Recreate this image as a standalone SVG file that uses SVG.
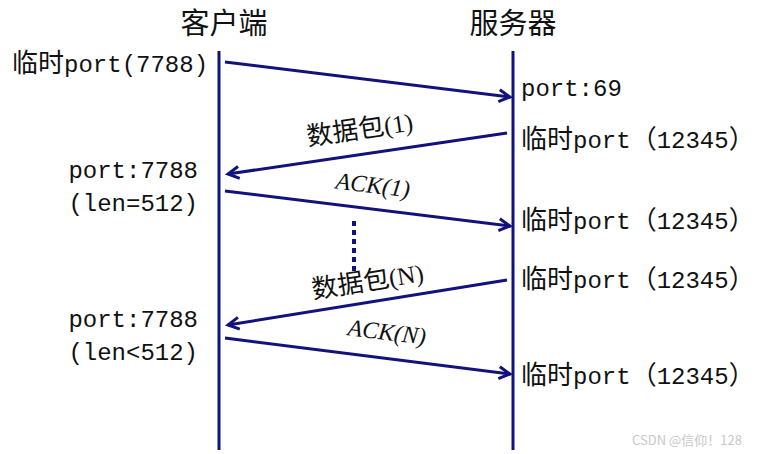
<svg xmlns="http://www.w3.org/2000/svg" width="762" height="454" viewBox="0 0 762 454">
<style>
.t{font-family:"Liberation Mono","Noto Sans CJK SC",monospace;font-size:24px;fill:#111}
.c{font-family:"Noto Sans CJK SC",sans-serif;font-size:26px}
.h{font-family:"Noto Sans CJK SC",sans-serif;font-size:29px;fill:#111}
.s{font-family:"Liberation Serif",serif;font-size:25px;fill:#111}
.i{font-family:"Liberation Serif",serif;font-style:italic;font-size:24px;fill:#111}
.ln{stroke:#12127c;stroke-width:3;fill:none}
.ar{stroke:#12127c;stroke-width:3;fill:none;marker-end:url(#ah)}
.wm{font-family:"Noto Sans CJK SC",sans-serif;font-size:13px;fill:#c8c8c8}
</style>
<defs>
<marker id="ah" markerUnits="userSpaceOnUse" markerWidth="20" markerHeight="20" refX="14" refY="8" orient="auto">
<path d="M3,2 L14,8 L3,14" fill="none" stroke="#12127c" stroke-width="3"/>
</marker>
</defs>
<rect width="762" height="454" fill="#fff"/>
<g id="client">
<text class="h" x="224" y="34" text-anchor="middle">客户端</text>
<line class="ln" x1="219" y1="51" x2="219" y2="450"/>
<text class="t" x="12" y="72"><tspan class="c">临时</tspan>port(7788)</text>
<text class="t" x="198" y="178" text-anchor="end">port:7788</text>
<text class="t" x="198" y="211" text-anchor="end">(len=512)</text>
<text class="t" x="198" y="327" text-anchor="end">port:7788</text>
<text class="t" x="198" y="360" text-anchor="end">(len&lt;512)</text>
</g>
<g id="server">
<text class="h" x="513" y="34" text-anchor="middle">服务器</text>
<line class="ln" x1="513" y1="51" x2="513" y2="450"/>
<text class="t" x="521" y="96">port:69</text>
<text class="t" x="521" y="148"><tspan class="c">临时</tspan>port<tspan class="c">（</tspan>12345<tspan class="c">）</tspan></text>
<text class="t" x="521" y="229"><tspan class="c">临时</tspan>port<tspan class="c">（</tspan>12345<tspan class="c">）</tspan></text>
<text class="t" x="521" y="288"><tspan class="c">临时</tspan>port<tspan class="c">（</tspan>12345<tspan class="c">）</tspan></text>
<text class="t" x="521" y="384"><tspan class="c">临时</tspan>port<tspan class="c">（</tspan>12345<tspan class="c">）</tspan></text>
</g>
<g id="connectors">
<line class="ar" x1="225" y1="62" x2="510" y2="97"/>
<line class="ar" x1="507" y1="133" x2="228" y2="174"/>
<line class="ar" x1="225" y1="191" x2="510" y2="226"/>
<line x1="354" y1="221" x2="354" y2="272" stroke="#12127c" stroke-width="4" stroke-dasharray="5,4"/>
<line class="ar" x1="507" y1="280" x2="228" y2="325"/>
<line class="ar" x1="225" y1="338" x2="510" y2="374"/>
</g>
<g id="labels">
<text transform="translate(361,138) rotate(-8.3)" text-anchor="middle"><tspan class="c" fill="#111">数据包</tspan><tspan class="s">(1)</tspan></text>
<text class="i" transform="translate(372,193) rotate(7)" text-anchor="middle">ACK(1)</text>
<text transform="translate(369,290) rotate(-9)" text-anchor="middle"><tspan class="c" fill="#111">数据包</tspan><tspan class="s">(N)</tspan></text>
<text class="i" transform="translate(386,340) rotate(7)" text-anchor="middle">ACK(N)</text>
</g>
<text class="wm" x="632" y="445">CSDN @信仰！128</text>
</svg>
